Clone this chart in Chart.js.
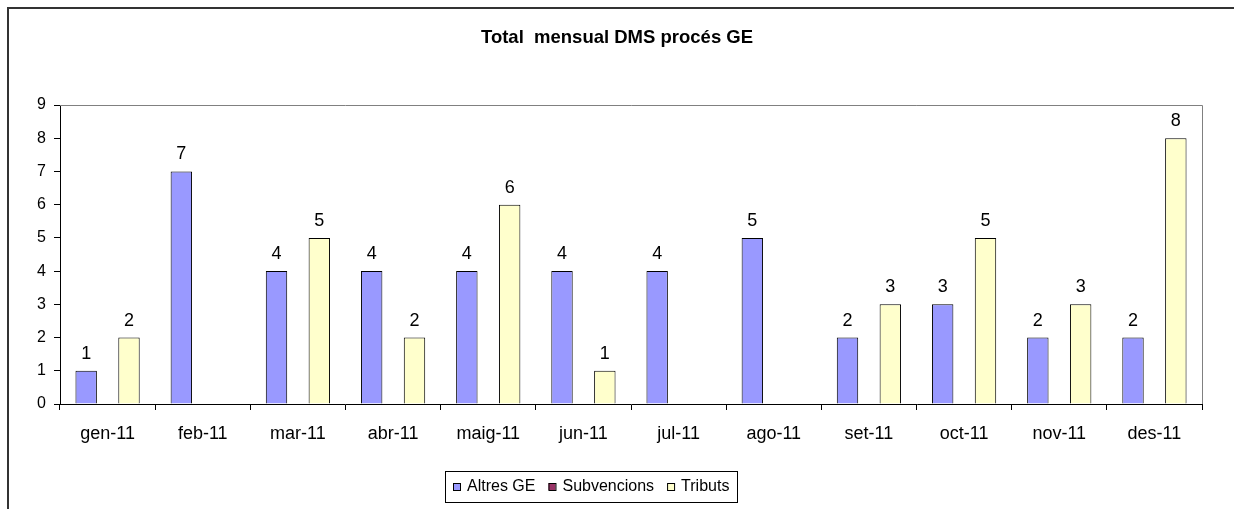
<!DOCTYPE html>
<html>
<head>
<meta charset="utf-8">
<script src="https://cdn.jsdelivr.net/npm/chart.js@4/dist/chart.umd.min.js"></script>
<style>
  html, body { margin: 0; padding: 0; background: #fff; }
  #wrap { width: 1234px; height: 509px; position: relative; }
</style>
</head>
<body>
<div id="wrap"><canvas id="c" width="1234" height="509"></canvas></div>
<script>
// Monthly counts, 2011
const months = ['gen-11','feb-11','mar-11','abr-11','maig-11','jun-11','jul-11','ago-11','set-11','oct-11','nov-11','des-11'];
const altresGE = [1, 7, 4, 4, 4, 4, 4, 5, 2, 3, 2, 2];
const subvencions = [null, null, null, null, null, null, null, null, null, null, null, null];
const tributs = [2, null, 5, 2, 6, 1, null, null, 3, 5, 3, 8];
const yTicks = [0, 1, 2, 3, 4, 5, 6, 7, 8, 9];

const chartTitle = 'Total  mensual DMS procés GE';
const FONT = '"Liberation Sans", Arial, sans-serif';

// Outer frame, title, plot border, value labels and boxed legend
const decor = {
  id: 'decor',
  beforeDraw(chart) {
    const ctx = chart.ctx;
    ctx.save();
    ctx.fillStyle = '#fff';
    ctx.fillRect(0, 0, chart.width, chart.height);
    ctx.strokeStyle = '#333';
    ctx.lineWidth = 2;
    ctx.strokeRect(8, 8, chart.width + 20, chart.height + 20);
    ctx.restore();
  },
  afterDraw(chart) {
    const ctx = chart.ctx;
    const a = chart.chartArea;
    ctx.save();
    // plot area border (top and right)
    ctx.strokeStyle = '#808080';
    ctx.lineWidth = 1;
    ctx.beginPath();
    ctx.moveTo(a.left, a.top + 0.5);
    ctx.lineTo(a.right + 0.5, a.top + 0.5);
    ctx.lineTo(a.right + 0.5, a.bottom);
    ctx.stroke();

    // title
    ctx.fillStyle = '#000';
    ctx.font = 'bold 18.5px ' + FONT;
    ctx.textAlign = 'center';
    ctx.textBaseline = 'middle';
    ctx.fillText(chartTitle, 617, 38);

    // legend
    const lx = 445, ly = 471, lw = 292, lh = 31;
    ctx.strokeStyle = '#000';
    ctx.lineWidth = 1;
    ctx.strokeRect(lx + 0.5, ly + 0.5, lw, lh);
    ctx.font = '16px ' + FONT;
    ctx.textAlign = 'left';
    ctx.textBaseline = 'middle';
    const cy = ly + lh / 2 + 0.5;
    let x = lx + 8;
    chart.data.datasets.forEach(ds => {
      ctx.fillStyle = ds.backgroundColor;
      ctx.fillRect(x, cy - 4, 7, 7);
      ctx.strokeStyle = '#000';
      ctx.strokeRect(x + 0.5, cy - 3.5, 7, 7);
      ctx.fillStyle = '#000';
      ctx.fillText(ds.label, x + 14, cy);
      x += 14 + ctx.measureText(ds.label).width + 13;
    });
    ctx.restore();
  },
  afterDatasetsDraw(chart) {
    const ctx = chart.ctx;
    ctx.save();
    ctx.fillStyle = '#000';
    ctx.font = '18px ' + FONT;
    ctx.textAlign = 'center';
    ctx.textBaseline = 'alphabetic';
    chart.data.datasets.forEach((ds, i) => {
      const meta = chart.getDatasetMeta(i);
      meta.data.forEach((bar, j) => {
        const v = ds.data[j];
        if (v === null || v === undefined) return;
        ctx.fillText(String(v), bar.x, bar.y - 12);
      });
    });
    ctx.restore();
  }
};

new Chart(document.getElementById('c'), {
  type: 'bar',
  data: {
    labels: months,
    datasets: [
      { label: 'Altres GE', data: altresGE, backgroundColor: '#9999FF', borderColor: '#000', borderWidth: 1 },
      { label: 'Subvencions', data: subvencions, backgroundColor: '#993366', borderColor: '#000', borderWidth: 1 },
      { label: 'Tributs', data: tributs, backgroundColor: '#FFFFCC', borderColor: '#000', borderWidth: 1 }
    ]
  },
  options: {
    responsive: false,
    animation: false,
    layout: { padding: { left: 0, right: 32, top: 105, bottom: 0 } },
    datasets: { bar: { categoryPercentage: 0.675, barPercentage: 1.0 } },
    plugins: { legend: { display: false }, title: { display: false }, tooltip: { enabled: false } },
    scales: {
      x: {
        offset: true,
        afterFit(s) { s.height = 105; },
        grid: { offset: true, drawOnChartArea: false, drawTicks: true, tickLength: 6, color: '#000' },
        border: { display: true, color: '#000', width: 1 },
        ticks: { color: '#000', font: { family: FONT, size: 18 }, padding: 13, maxRotation: 0, autoSkip: false }
      },
      y: {
        min: 0, max: 9,
        afterFit(s) { s.width = 60; },
        afterBuildTicks(s) { s.ticks = yTicks.map(v => ({ value: v })); },
        grid: { drawOnChartArea: false, drawTicks: true, tickLength: 6, color: '#000' },
        border: { display: true, color: '#000', width: 1 },
        ticks: { color: '#000', font: { family: FONT, size: 16 }, padding: 8 }
      }
    }
  },
  plugins: [decor]
});
</script>
</body>
</html>
